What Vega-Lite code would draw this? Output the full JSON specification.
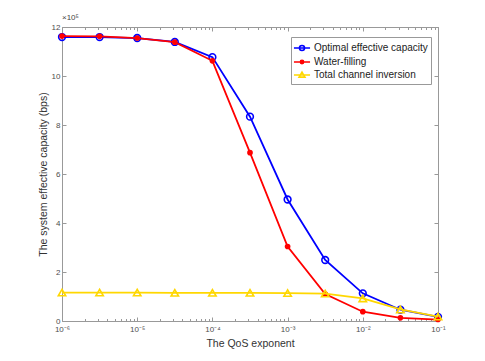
{
  "$schema": "https://vega.github.io/schema/vega-lite/v6.json",
  "width": 376,
  "height": 294,
  "autosize": {"type": "none"},
  "padding": {"left": 62, "top": 27, "right": 47, "bottom": 40},
  "title": {"text": "×10⁵", "anchor": "start", "frame": "group", "fontSize": 8, "fontWeight": "normal", "color": "#444444", "offset": 1, "font": "Liberation Sans"},
  "config": {
    "view": {"stroke": null},
    "font": "Liberation Sans",
    "axis": {
      "grid": false,
      "domainColor": "#999999",
      "tickColor": "#999999",
      "labelColor": "#4d4d4d",
      "labelFontSize": 8,
      "labelFont": "Liberation Sans",
      "titleFont": "Liberation Sans",
      "titleFontSize": 10.5,
      "titleFontWeight": "normal",
      "titleColor": "#333333",
      "labelOverlap": false,
      "labelFlush": false
    },
    "legend": {
      "strokeColor": "#999999",
      "fillColor": "white",
      "padding": 3,
      "labelFontSize": 10,
      "labelFont": "Liberation Sans",
      "labelColor": "#222222",
      "symbolSize": 196,
      "symbolStrokeWidth": 1.6,
      "rowPadding": 0,
      "labelOffset": 4,
      "cornerRadius": 0
    }
  },
  "data": {
    "values": [
      {"q": 0.000001, "series": "Optimal effective capacity", "v": 11.59},
      {"q": 0.000003162, "series": "Optimal effective capacity", "v": 11.59},
      {"q": 0.00001, "series": "Optimal effective capacity", "v": 11.55},
      {"q": 0.00003162, "series": "Optimal effective capacity", "v": 11.39},
      {"q": 0.0001, "series": "Optimal effective capacity", "v": 10.77},
      {"q": 0.0003162, "series": "Optimal effective capacity", "v": 8.34},
      {"q": 0.001, "series": "Optimal effective capacity", "v": 4.96},
      {"q": 0.003162, "series": "Optimal effective capacity", "v": 2.49},
      {"q": 0.01, "series": "Optimal effective capacity", "v": 1.13},
      {"q": 0.03162, "series": "Optimal effective capacity", "v": 0.46},
      {"q": 0.1, "series": "Optimal effective capacity", "v": 0.17},
      {"q": 0.000001, "series": "Water-filling", "v": 11.63},
      {"q": 0.000003162, "series": "Water-filling", "v": 11.62},
      {"q": 0.00001, "series": "Water-filling", "v": 11.55},
      {"q": 0.00003162, "series": "Water-filling", "v": 11.38},
      {"q": 0.0001, "series": "Water-filling", "v": 10.62},
      {"q": 0.0003162, "series": "Water-filling", "v": 6.87},
      {"q": 0.001, "series": "Water-filling", "v": 3.04},
      {"q": 0.003162, "series": "Water-filling", "v": 1.1},
      {"q": 0.01, "series": "Water-filling", "v": 0.38},
      {"q": 0.03162, "series": "Water-filling", "v": 0.13},
      {"q": 0.1, "series": "Water-filling", "v": 0.06},
      {"q": 0.000001, "series": "Total channel inversion", "v": 1.16},
      {"q": 0.000003162, "series": "Total channel inversion", "v": 1.16},
      {"q": 0.00001, "series": "Total channel inversion", "v": 1.16},
      {"q": 0.00003162, "series": "Total channel inversion", "v": 1.15},
      {"q": 0.0001, "series": "Total channel inversion", "v": 1.15},
      {"q": 0.0003162, "series": "Total channel inversion", "v": 1.15},
      {"q": 0.001, "series": "Total channel inversion", "v": 1.14},
      {"q": 0.003162, "series": "Total channel inversion", "v": 1.12},
      {"q": 0.01, "series": "Total channel inversion", "v": 0.92},
      {"q": 0.03162, "series": "Total channel inversion", "v": 0.47},
      {"q": 0.1, "series": "Total channel inversion", "v": 0.18}
    ]
  },
  "layer": [
    {
      "transform": [{"filter": "datum.series == 'Optimal effective capacity'"}],
      "mark": {"type": "line", "strokeWidth": 1.8, "color": "#0000ff",
               "point": {"shape": "circle", "filled": false, "size": 45, "strokeWidth": 1.6, "color": "#0000ff"}},
      "encoding": {
        "x": {
          "field": "q", "type": "quantitative",
          "scale": {"type": "log", "domain": [0.000001, 0.1], "nice": false},
          "axis": {
            "orient": "bottom",
            "title": "The QoS exponent",
            "titlePadding": 4,
            "labelPadding": 8,
            "values": [0.000001,0.000002,0.000003,0.000004,0.000005,0.000006,0.000007,0.000008,0.000009,0.00001,0.00002,0.00003,0.00004,0.00005,0.00006,0.00007,0.00008,0.00009,0.0001,0.0002,0.0003,0.0004,0.0005,0.0006,0.0007,0.0008,0.0009,0.001,0.002,0.003,0.004,0.005,0.006,0.007,0.008,0.009,0.01,0.02,0.03,0.04,0.05,0.06,0.07,0.08,0.09,0.1],
            "labelExpr": "abs(log(datum.value)/LN10 - round(log(datum.value)/LN10)) < 0.001 ? '10⁻' + ['⁰','¹','²','³','⁴','⁵','⁶'][-round(log(datum.value)/LN10)] : ''",
            "tickSize": {"condition": {"test": "abs(log(datum.value)/LN10 - round(log(datum.value)/LN10)) < 0.001", "value": -4}, "value": -2.5}
          }
        },
        "y": {
          "field": "v", "type": "quantitative",
          "scale": {"domain": [0, 12], "nice": false},
          "axis": {
            "orient": "left",
            "title": "The system effective capacity (bps)",
            "values": [0, 2, 4, 6, 8, 10, 12],
            "tickSize": -4,
            "labelPadding": 6,
            "titlePadding": 3
          }
        }
      }
    },
    {
      "transform": [{"filter": "datum.series == 'Water-filling'"}],
      "mark": {"type": "line", "strokeWidth": 1.8, "color": "#ff0000",
               "point": {"shape": "circle", "filled": true, "size": 32, "color": "#ff0000"}},
      "encoding": {"x": {"field": "q", "type": "quantitative", "axis": null}, "y": {"field": "v", "type": "quantitative", "axis": null}}
    },
    {
      "transform": [{"filter": "datum.series == 'Total channel inversion'"}],
      "mark": {"type": "line", "strokeWidth": 1.8, "color": "#ffd700",
               "point": {"shape": "triangle-up", "filled": false, "size": 55, "strokeWidth": 1.6, "color": "#ffd700"}},
      "encoding": {"x": {"field": "q", "type": "quantitative", "axis": null}, "y": {"field": "v", "type": "quantitative", "axis": null}}
    },
    {
      "transform": [{"filter": "false"}],
      "mark": {"type": "point", "filled": false, "strokeWidth": 1.6, "opacity": 1},
      "encoding": {
        "x": {
          "field": "q", "type": "quantitative",
          "axis": {
            "orient": "top", "title": null, "labels": false,
            "values": [0.000001,0.000002,0.000003,0.000004,0.000005,0.000006,0.000007,0.000008,0.000009,0.00001,0.00002,0.00003,0.00004,0.00005,0.00006,0.00007,0.00008,0.00009,0.0001,0.0002,0.0003,0.0004,0.0005,0.0006,0.0007,0.0008,0.0009,0.001,0.002,0.003,0.004,0.005,0.006,0.007,0.008,0.009,0.01,0.02,0.03,0.04,0.05,0.06,0.07,0.08,0.09,0.1],
            "tickSize": {"condition": {"test": "abs(log(datum.value)/LN10 - round(log(datum.value)/LN10)) < 0.001", "value": -4}, "value": -2.5}
          }
        },
        "y": {
          "field": "v", "type": "quantitative",
          "axis": {"orient": "right", "title": null, "labels": false, "values": [0, 2, 4, 6, 8, 10, 12], "tickSize": -4}
        },
        "color": {
          "field": "series", "type": "nominal",
          "scale": {"domain": ["Optimal effective capacity", "Water-filling", "Total channel inversion"], "range": ["#0000ff", "#ff0000", "#ffd700"]},
          "legend": {"title": null, "orient": "none", "legendX": 229, "legendY": 10}
        },
        "shape": {
          "field": "series", "type": "nominal",
          "scale": {"domain": ["Optimal effective capacity", "Water-filling", "Total channel inversion"],
                    "range": ["M-1.15,0L1.15,0M-0.36,0A0.36,0.36 0 1,0 0.36,0A0.36,0.36 0 1,0 -0.36,0",
                              "M-1.15,0L1.15,0M-0.24,0A0.24,0.24 0 1,0 0.24,0A0.24,0.24 0 1,0 -0.24,0",
                              "M-1.15,0L1.15,0M0,-0.42L0.42,0.3L-0.42,0.3Z"]},
          "legend": {"title": null, "orient": "none", "legendX": 229, "legendY": 10}
        },
        "fill": {
          "field": "series", "type": "nominal",
          "scale": {"domain": ["Optimal effective capacity", "Water-filling", "Total channel inversion"], "range": ["transparent", "#ff0000", "transparent"]},
          "legend": {"title": null, "orient": "none", "legendX": 229, "legendY": 10}
        }
      }
    }
  ],
  "resolve": {"axis": {"x": "independent", "y": "independent"}}
}
